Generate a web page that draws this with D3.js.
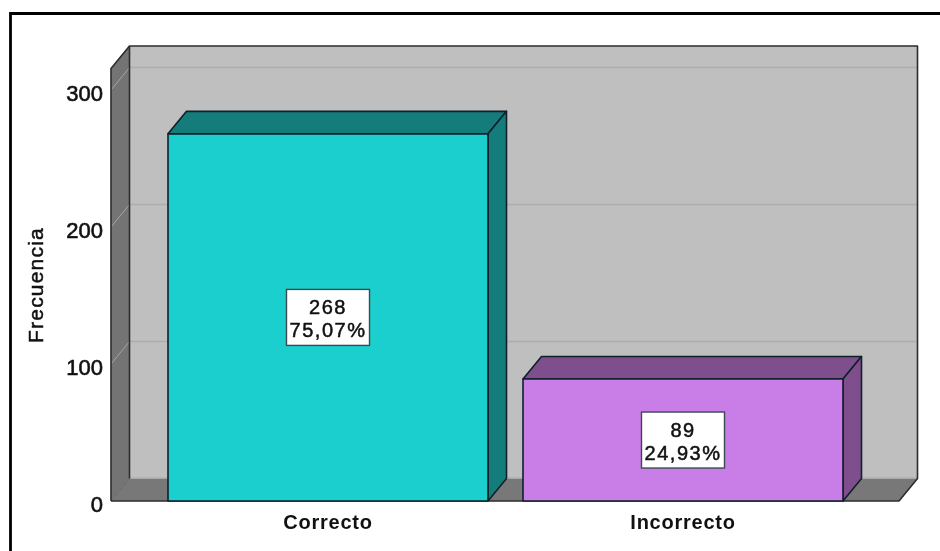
<!DOCTYPE html>
<html><head><meta charset="utf-8">
<script src="https://cdn.jsdelivr.net/npm/d3@7/dist/d3.min.js"></script>
<style>html,body{margin:0;padding:0;background:#fff}svg{display:block;filter:blur(0.4px)}text{font-family:"Liberation Sans",Arial,sans-serif;fill:#111}</style>
</head><body><svg id="c" width="940" height="551"></svg>
<script>
const categories = ["Correcto", "Incorrecto"];
const frequencies = [268, 89];
const percentages = ["75,07%", "24,93%"];
const yTicks = [0, 100, 200, 300];
const axisTitle = "Frecuencia";

const faceColors = ["#1bcfcf", "#c97de6"];
const darkColors = ["#147d7c", "#7f4e8d"];

const W = 940, H = 551;
const pLeft = 111, pRight = 899, pBase = 501, pTop = 68.5;
const dx = 18.5, dy = -22.5;
const barW = 320, gap = 35, outer = 57;
const step = barW + gap;

const svg = d3.select("#c");
const y = d3.scaleLinear().domain([0, 300]).range([pBase, pBase - 411]);
const x = d3.scaleBand().domain(categories).range([pLeft, pRight + 1])
  .paddingInner(gap / step).paddingOuter(outer / step);

const poly = (pts, fill, stroke, sw) => svg.append("polygon")
  .attr("points", pts.map(p => p.join(",")).join(" "))
  .attr("fill", fill).attr("stroke", stroke || "none").attr("stroke-width", sw || 0)
  .attr("stroke-linejoin", "round");

// Frame (open on the right and bottom)
svg.append("path").attr("d", `M10.5,${H + 5}V13.5H${W + 5}`).attr("fill", "none")
  .attr("stroke", "#000").attr("stroke-width", 2.8);

// Back wall, side wall, floor
poly([[pLeft + dx, pTop + dy], [pRight + dx, pTop + dy], [pRight + dx, pBase + dy], [pLeft + dx, pBase + dy]], "#bfbfbf");
poly([[pLeft, pTop], [pLeft + dx, pTop + dy], [pLeft + dx, pBase + dy], [pLeft, pBase]], "#747474");
poly([[pLeft, pBase], [pLeft + dx, pBase + dy], [pRight + dx, pBase + dy], [pRight, pBase]], "#787878");

// Gridlines
yTicks.filter(d => d > 0).forEach(d => {
  svg.append("line").attr("x1", pLeft + dx).attr("x2", pRight + dx)
    .attr("y1", y(d) + dy).attr("y2", y(d) + dy)
    .attr("stroke", "#adadad").attr("stroke-width", 1.5);
  svg.append("line").attr("x1", pLeft).attr("x2", pLeft + dx)
    .attr("y1", y(d)).attr("y2", y(d) + dy)
    .attr("stroke", "#a4a4a4").attr("stroke-width", 1);
});
svg.append("line").attr("x1", pLeft + dx).attr("x2", pRight + dx)
  .attr("y1", pBase + dy - 0.5).attr("y2", pBase + dy - 0.5).attr("stroke", "#a8a8a8").attr("stroke-width", 1);
svg.append("line").attr("x1", pLeft).attr("x2", pLeft + dx)
  .attr("y1", pBase).attr("y2", pBase + dy).attr("stroke", "#666").attr("stroke-width", 1);

// Plot outlines
const outline = (d, c, w) => svg.append("path").attr("d", d).attr("fill", "none")
  .attr("stroke", c || "#2c2c2c").attr("stroke-width", w || 1.6).attr("stroke-linejoin", "round");
outline(`M${pLeft},${pBase}V${pTop}L${pLeft + dx},${pTop + dy}H${pRight + dx}V${pBase + dy}L${pRight},${pBase}H${pLeft}`);
outline(`M${pLeft + dx},${pTop + dy}V${pBase + dy}`);

// Bars
categories.forEach((c, i) => {
  const x0 = x(c), x1 = x0 + x.bandwidth(), yv = y(frequencies[i]);
  const st = "#10202a";
  poly([[x0, yv], [x0 + dx, yv + dy], [x1 + dx, yv + dy], [x1, yv]], darkColors[i], st, 1.6);
  poly([[x1, yv], [x1 + dx, yv + dy], [x1 + dx, pBase + dy], [x1, pBase]], darkColors[i], st, 1.6);
  poly([[x0, yv], [x1, yv], [x1, pBase], [x0, pBase]], faceColors[i], st, 1.6);

  const cx = (x0 + x1) / 2, cy = (yv + pBase) / 2;
  svg.append("rect").attr("x", cx - 41.5).attr("y", cy - 28).attr("width", 83).attr("height", 56)
    .attr("fill", "#fff").attr("stroke", "#3c4a50").attr("stroke-width", 1.4);
  const t = svg.append("text").attr("text-anchor", "middle").attr("font-size", 20)
    .attr("letter-spacing", 1.5).attr("stroke", "#111").attr("stroke-width", 0.5);
  t.append("tspan").attr("x", cx).attr("y", cy - 3).text(frequencies[i]);
  t.append("tspan").attr("x", cx).attr("y", cy + 20).text(percentages[i]);
});

// Axes
const gy = svg.append("g").attr("transform", `translate(${pLeft - 5},0)`)
  .call(d3.axisLeft(y).tickValues(yTicks).tickSize(0).tickPadding(3));
gy.select(".domain").remove();
gy.selectAll("text").attr("font-size", 22).attr("dy", "0.48em")
  .attr("font-family", '"Liberation Sans",Arial,sans-serif').attr("fill", "#111")
  .attr("stroke", "#111").attr("stroke-width", 0.6);

const gx = svg.append("g").attr("transform", `translate(0,${pBase})`)
  .call(d3.axisBottom(x).tickSize(0).tickPadding(14));
gx.select(".domain").remove();
gx.selectAll("text").attr("font-size", 20).attr("font-weight", "bold").attr("letter-spacing", 0.75)
  .attr("font-family", '"Liberation Sans",Arial,sans-serif').attr("fill", "#111");

svg.append("text").attr("transform", "translate(43,285) rotate(-90)")
  .attr("text-anchor", "middle").attr("font-size", 21).attr("letter-spacing", 1.2)
  .attr("stroke", "#111").attr("stroke-width", 0.5)
  .text(axisTitle);
</script></body></html>
